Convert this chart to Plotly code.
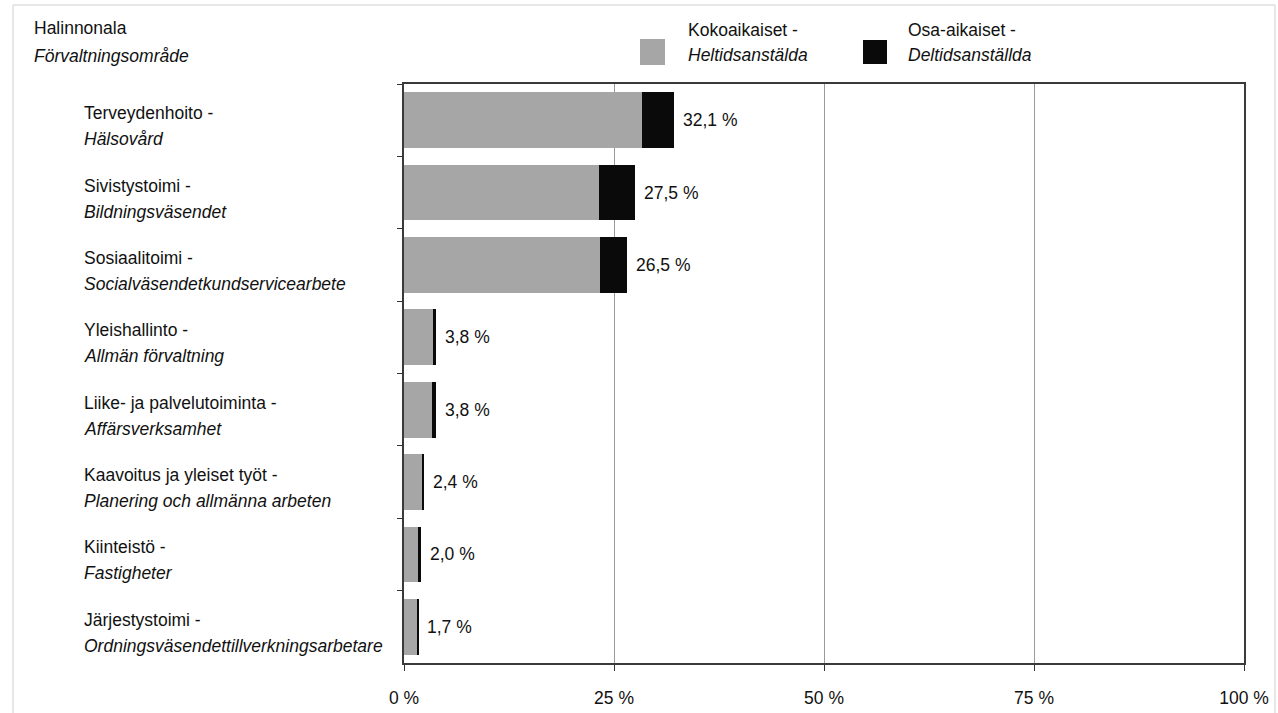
import plotly.graph_objects as go

# ---- data ----
cat_fi = ["Terveydenhoito -", "Sivistystoimi -", "Sosiaalitoimi -", "Yleishallinto -",
          "Liike- ja palvelutoiminta -", "Kaavoitus ja yleiset työt -", "Kiinteistö -",
          "Järjestystoimi -"]
cat_sv = ["Hälsovård", "Bildningsväsendet", "Socialväsendetkundservicearbete",
          "Allmän förvaltning", "Affärsverksamhet", "Planering och allmänna arbeten",
          "Fastigheter", "Ordningsväsendettillverkningsarbetare"]
full_time = [28.3, 23.2, 23.3, 3.4, 3.3, 2.15, 1.7, 1.6]
part_time = [3.8, 4.3, 3.2, 0.4, 0.5, 0.25, 0.3, 0.1]
total_labels = ["32,1 %", "27,5 %", "26,5 %", "3,8 %", "3,8 %", "2,4 %", "2,0 %", "1,7 %"]
x_tickvals = [0, 25, 50, 75, 100]
x_ticktext = ["0 %", "25 %", "50 %", "75 %", "100 %"]

FONT = "Liberation Sans, Arial, sans-serif"
FS = 17.5
W, H = 1278, 713
L, R, T, B = 404, 34, 84, 50

cats = cat_fi  # category keys

fig = go.Figure()
fig.add_trace(go.Bar(y=cats, x=full_time, orientation="h", name="Kokoaikaiset",
                     marker=dict(color="#a6a6a6", line=dict(width=0)), showlegend=False))
fig.add_trace(go.Bar(y=cats, x=part_time, orientation="h", name="Osa-aikaiset",
                     marker=dict(color="#0a0a0a", line=dict(width=0)), showlegend=False))

pw, ph = W - L - R, H - T - B
def px(x):
    return (x - L) / pw
def py(y):
    return (H - B - y) / ph

ann = []
for c, fi, sv, f, p, lab in zip(cats, cat_fi, cat_sv, full_time, part_time, total_labels):
    ann.append(dict(x=f + p, y=c, xref="x", yref="y", text=lab, showarrow=False,
                    xanchor="left", xshift=7, font=dict(size=FS, color="#111", family=FONT)))
    ann.append(dict(x=px(82), y=c, xref="paper", yref="y", text=fi,
                    showarrow=False, xanchor="left", yanchor="middle", yshift=7,
                    font=dict(size=FS, color="#111", family=FONT)))
    ann.append(dict(x=px(82), y=c, xref="paper", yref="y",
                    text="<i>" + sv + "</i>", showarrow=False, xanchor="left",
                    yanchor="middle", yshift=-19, font=dict(size=FS, color="#111", family=FONT)))

for txt, x, y in [("Halinnonala", 32, 28), ("<i>Förvaltningsområde</i>", 32, 56),
                  ("Kokoaikaiset -", 686, 30), ("<i>Heltidsanstälda</i>", 686, 55),
                  ("Osa-aikaiset -", 906, 30), ("<i>Deltidsanställda</i>", 906, 55)]:
    ann.append(dict(x=px(x), y=py(y), xref="paper", yref="paper", text=txt, showarrow=False,
                    xanchor="left", yanchor="middle", font=dict(size=FS, color="#111", family=FONT)))

shapes = [
    dict(type="rect", xref="paper", yref="paper", x0=px(640), x1=px(665), y0=py(65), y1=py(39),
         fillcolor="#a6a6a6", line=dict(width=0)),
    dict(type="rect", xref="paper", yref="paper", x0=px(863), x1=px(887), y0=py(64), y1=py(40),
         fillcolor="#0a0a0a", line=dict(width=0)),
    dict(type="rect", xref="paper", yref="paper", x0=px(13), x1=px(1275), y0=py(716), y1=py(5),
         fillcolor="rgba(0,0,0,0)", line=dict(width=1, color="#cfcfcf"), layer="below"),
]

fig.update_layout(
    width=W, height=H, barmode="stack", bargap=0.23,
    margin=dict(l=L, r=R, t=T, b=B, autoexpand=False),
    paper_bgcolor="white", plot_bgcolor="white",
    font=dict(family=FONT, size=FS, color="#111"),
    annotations=ann, shapes=shapes,
    xaxis=dict(range=[0, 100], tickvals=x_tickvals, ticktext=x_ticktext, ticks="outside",
               ticklen=6, tickcolor="#333", showgrid=True, gridcolor="#9a9a9a", gridwidth=1,
               showline=True, linecolor="#3a3a3a", linewidth=2, mirror=True, zeroline=False,
               ticklabelstandoff=12,
               tickfont=dict(size=FS, family=FONT, color="#111")),
    yaxis=dict(categoryorder="array", categoryarray=cats, autorange="reversed",
               showticklabels=False, ticks="outside", tickson="boundaries", ticklen=5,
               tickcolor="#333", showgrid=False, showline=True, linecolor="#3a3a3a",
               linewidth=2, mirror=True, zeroline=False),
)

fig.write_html("out.html", config={"displayModeBar": False},
               post_script="document.body.style.margin='0';")
